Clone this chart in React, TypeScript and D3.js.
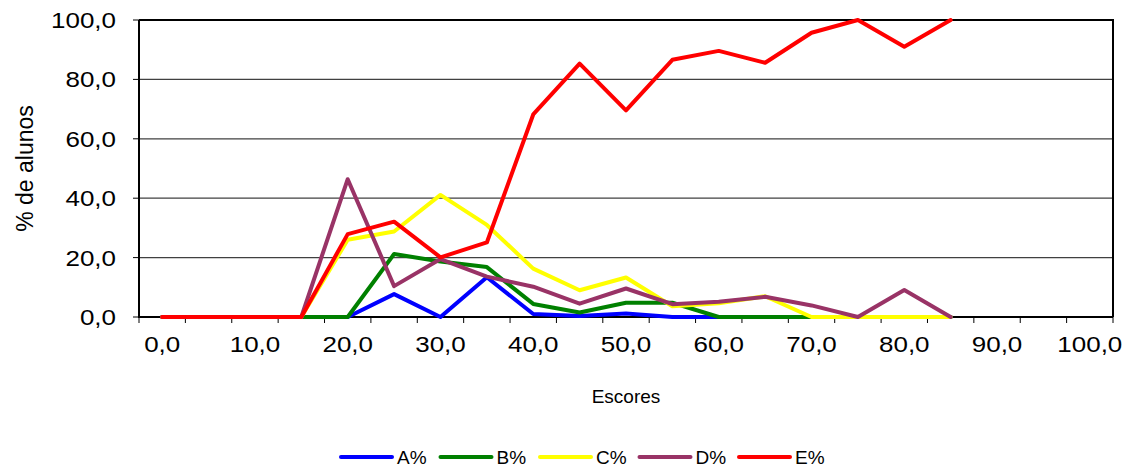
import React, { useEffect, useRef } from 'react';
import * as d3 from 'd3';

// Score categories (0 to 100 in steps of 5)
const categories = [0, 5, 10, 15, 20, 25, 30, 35, 40, 45, 50, 55, 60, 65, 70, 75, 80, 85, 90, 95, 100];

// % of students per score (points 0..85)
const seriesA = [0, 0, 0, 0, 0, 7.7, 0, 13.4, 1.0, 0.3, 1.2, 0, 0, 0, 0, 0, 0, 0];
const seriesB = [0, 0, 0, 0, 0, 21.2, 18.7, 16.8, 4.4, 1.5, 4.8, 4.8, 0, 0, 0, 0, 0, 0];
const seriesC = [0, 0, 0, 0, 26.0, 28.8, 41.1, 31.0, 16.3, 9.0, 13.3, 3.6, 4.6, 7.0, 0, 0, 0, 0];
const seriesD = [0, 0, 0, 0, 46.4, 10.4, 19.5, 13.6, 10.2, 4.5, 9.6, 4.3, 5.1, 6.8, 3.9, 0, 9.1, 0];
const seriesE = [0, 0, 0, 0, 27.9, 32.1, 20.1, 25.1, 68.2, 85.3, 69.6, 86.6, 89.6, 85.6, 95.7, 100, 91.0, 100];

const seriesNames = ['A%', 'B%', 'C%', 'D%', 'E%'];
const seriesColors = ['#0000FF', '#008000', '#FFFF00', '#993366', '#FF0000'];
const yTicks = [0, 20, 40, 60, 80, 100];

const FONT = '"Liberation Sans", Arial, sans-serif';

const fmt = (v: number) => v.toFixed(1).replace('.', ',');

const App = () => {
  const svgRef = useRef<SVGSVGElement | null>(null);

  useEffect(() => {
    if (!svgRef.current) return;
    const svg = d3.select(svgRef.current);
    svg.selectAll('*').remove();

    const width = 1131;
    const height = 473;
    const margin = { top: 20, right: 18, bottom: 156, left: 139 };

    const x = d3.scaleBand<string>()
      .domain(categories.map(String))
      .range([margin.left, width - margin.right])
      .padding(0);
    const y = d3.scaleLinear()
      .domain([0, 100])
      .range([height - margin.bottom, margin.top]);

    const cx = (c: number) => (x(String(c)) as number) + x.bandwidth() / 2;
    const x0 = margin.left;
    const x1 = width - margin.right;
    const y0 = y(0);
    const y1 = y(100);

    // Gridlines
    svg.append('g')
      .selectAll('line')
      .data(yTicks.filter(t => t > 0 && t < 100))
      .enter()
      .append('line')
      .attr('x1', x0).attr('x2', x1)
      .attr('y1', d => y(d)).attr('y2', d => y(d))
      .attr('stroke', '#404040')
      .attr('stroke-width', 1.2);

    // Plot border (top/right)
    svg.append('path')
      .attr('d', `M${x0},${y1} L${x1},${y1} L${x1},${y0}`)
      .attr('fill', 'none')
      .attr('stroke', '#000')
      .attr('stroke-width', 2);

    // Y axis
    svg.append('line')
      .attr('x1', x0).attr('x2', x0).attr('y1', y1).attr('y2', y0 + 1)
      .attr('stroke', '#000').attr('stroke-width', 2);
    svg.append('g')
      .selectAll('line')
      .data(yTicks)
      .enter()
      .append('line')
      .attr('x1', x0 - 6).attr('x2', x0)
      .attr('y1', d => y(d)).attr('y2', d => y(d))
      .attr('stroke', '#000').attr('stroke-width', 1);
    svg.append('g')
      .selectAll('text')
      .data(yTicks)
      .enter()
      .append('text')
      .attr('transform', d => `translate(116, ${y(d) + 8}) scale(1.18, 1)`)
      .attr('text-anchor', 'end')
      .attr('font-family', FONT)
      .attr('font-size', 22)
      .attr('fill', '#000')
      .text(d => fmt(d));

    // X axis
    svg.append('line')
      .attr('x1', x0).attr('x2', x1).attr('y1', y0).attr('y2', y0)
      .attr('stroke', '#000').attr('stroke-width', 2);
    const boundaries = categories.map(c => x(String(c)) as number).concat([x1]);
    svg.append('g')
      .selectAll('line')
      .data(boundaries)
      .enter()
      .append('line')
      .attr('x1', d => d).attr('x2', d => d)
      .attr('y1', y0).attr('y2', y0 + 6)
      .attr('stroke', '#000').attr('stroke-width', 1);
    svg.append('g')
      .selectAll('text')
      .data(categories.filter((_, i) => i % 2 === 0))
      .enter()
      .append('text')
      .attr('transform', d => `translate(${cx(d)}, ${y0 + 35}) scale(1.18, 1)`)
      .attr('text-anchor', 'middle')
      .attr('font-family', FONT)
      .attr('font-size', 22)
      .attr('fill', '#000')
      .text(d => fmt(d));

    // Axis titles
    svg.append('text')
      .attr('x', 626)
      .attr('y', 403)
      .attr('text-anchor', 'middle')
      .attr('font-family', FONT)
      .attr('font-size', 19)
      .text('Escores');
    svg.append('text')
      .attr('transform', `translate(33, ${(y0 + y1) / 2}) rotate(-90)`)
      .attr('text-anchor', 'middle')
      .attr('font-family', FONT)
      .attr('font-size', 23)
      .text('% de alunos');

    // Lines
    const allSeries = [seriesA, seriesB, seriesC, seriesD, seriesE];
    const line = d3.line<number>()
      .x((_, i) => cx(categories[i]))
      .y(d => y(d));
    svg.append('g')
      .selectAll('path')
      .data(allSeries)
      .enter()
      .append('path')
      .attr('d', d => line(d))
      .attr('fill', 'none')
      .attr('stroke', (_, i) => seriesColors[i])
      .attr('stroke-width', 4)
      .attr('stroke-linejoin', 'round')
      .attr('stroke-linecap', 'round');

    // Legend
    const legend = svg.append('g');
    const item = legend.selectAll('g')
      .data(seriesNames)
      .enter()
      .append('g')
      .attr('transform', (_, i) => `translate(${340 + i * 99.5}, 457)`);
    item.append('line')
      .attr('x1', 1).attr('x2', 52)
      .attr('stroke', (_, i) => seriesColors[i])
      .attr('stroke-width', 4)
      .attr('stroke-linecap', 'round');
    item.append('text')
      .attr('x', 57)
      .attr('y', 7)
      .attr('font-family', FONT)
      .attr('font-size', 19)
      .text(d => d);
  }, []);

  return (
    <div style={{ position: 'absolute', left: 0, top: 0 }}>
      <svg ref={svgRef} width={1131} height={473} style={{ display: 'block', background: '#fff' }}></svg>
    </div>
  );
};

export default App;
